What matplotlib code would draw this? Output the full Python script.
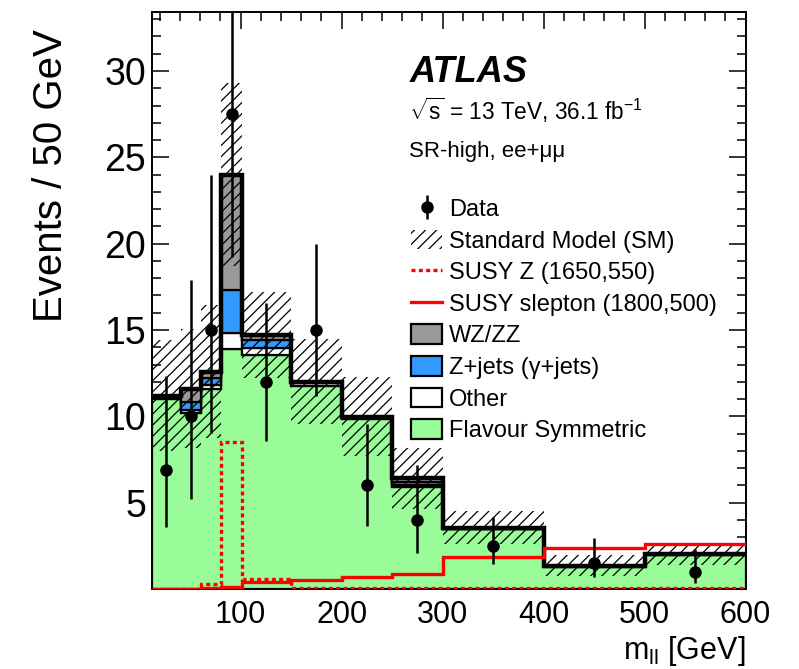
import matplotlib
matplotlib.use("Agg")
import matplotlib.pyplot as plt
import numpy as np
from matplotlib.patches import Patch
from matplotlib.lines import Line2D
from matplotlib.ticker import MultipleLocator, FixedLocator

plt.rcParams['font.family'] = ['Liberation Sans', 'DejaVu Sans']
plt.rcParams['mathtext.fontset'] = 'custom'
plt.rcParams['mathtext.rm'] = 'Liberation Sans'
plt.rcParams['mathtext.it'] = 'Liberation Sans:italic'
plt.rcParams['hatch.linewidth'] = 0.9

# m_ll bin edges [GeV]
edges = [12, 41, 61, 81, 101, 150, 200, 250, 300, 400, 500, 600]

# background stack, events / 50 GeV
flav_sym = [11.0, 10.2, 11.6, 13.9, 13.55, 11.75, 9.85, 5.92, 3.45, 1.30, 1.95]
other = [0.08, 0.15, 0.22, 0.90, 0.40, 0.20, 0.08, 0.12, 0.05, 0.04, 0.05]
zjets = [0.02, 0.50, 0.40, 2.50, 0.45, 0.02, 0.02, 0.15, 0.01, 0.00, 0.00]
wzzz = [0.10, 0.75, 0.36, 6.70, 0.30, 0.03, 0.03, 0.22, 0.03, 0.02, 0.04]
sm_unc = [3.2, 3.45, 3.85, 5.3, 2.5, 2.45, 2.3, 1.75, 0.95, 0.6, 0.65]

# signal points
susy_z = [0.0, 0.0, 0.27, 8.5, 0.58, 0.08, 0.05, 0.05, 0.03, 0.03, 0.03]
susy_slep = [0.01, 0.02, 0.06, 0.13, 0.39, 0.52, 0.68, 0.84, 1.88, 2.35, 2.62]

# data with asymmetric errors
data = [6.9, 10.0, 15.0, 27.5, 12.0, 15.0, 6.0, 4.0, 2.5, 1.5, 1.0]
data_lo = [3.3, 4.8, 5.95, 8.25, 3.42, 3.83, 2.38, 1.91, 1.08, 0.82, 0.65]
data_hi = [5.45, 7.9, 8.95, 10.9, 4.58, 4.96, 3.58, 3.16, 1.69, 1.46, 1.32]

col_fs = '#99fc99'
col_other = 'white'
col_z = '#3399ff'
col_wz = '#999999'

edges = np.array(edges, dtype=float)
centers = 0.5 * (edges[1:] + edges[:-1])

fig = plt.figure(figsize=(7.99, 6.69), dpi=100)
ax = fig.add_axes([0.1899, 0.1196, 0.7432, 0.862])

# stacked backgrounds
bottom = np.zeros(len(flav_sym))
for vals, col in [(flav_sym, col_fs), (other, col_other), (zjets, col_z), (wzzz, col_wz)]:
    top = bottom + np.array(vals)
    ax.stairs(top, edges, baseline=bottom.copy(), fill=True, facecolor=col,
              edgecolor='black', linewidth=1.6, zorder=2)
    bottom = top
total = bottom

# SM uncertainty band
unc = np.array(sm_unc)
ax.stairs(total + unc, edges, baseline=total - unc, fill=True, facecolor='none',
          edgecolor='black', linewidth=0, hatch='///', zorder=3)
ax.stairs(total, edges, baseline=None, color='black', linewidth=3.2, zorder=4)

# signals
ax.stairs(susy_z, edges, baseline=None, color='red', linewidth=2.4,
          linestyle=(0, (1.2, 1.0)), zorder=5)
ax.stairs(susy_slep, edges, baseline=None, color='red', linewidth=2.4, zorder=5)

# data
eb = ax.errorbar(centers, data, yerr=[data_lo, data_hi], fmt='o', color='black',
                 markersize=8, elinewidth=1.8, capsize=0, zorder=6)

ax.set_xlim(12, 600)
ax.set_ylim(0, 33.4)
ax.xaxis.set_major_locator(FixedLocator([100, 200, 300, 400, 500, 600]))
ax.xaxis.set_minor_locator(MultipleLocator(20))
ax.yaxis.set_major_locator(FixedLocator([5, 10, 15, 20, 25, 30]))
ax.yaxis.set_minor_locator(MultipleLocator(1))
ax.tick_params(which='both', direction='in', top=True, right=True, width=1.1)
ax.tick_params(which='major', length=12)
ax.tick_params(which='minor', length=6.5)
ax.tick_params(axis='x', labelsize=22, pad=8)
ax.tick_params(axis='y', labelsize=27, pad=4)
for s in ax.spines.values():
    s.set_linewidth(1.4)

ax.set_ylabel('Events / 50 GeV', fontsize=29, loc='top')
ax.yaxis.set_label_coords(-0.138, 0.97)
ax.set_xlabel(r'm$_{\mathregular{ll}}$ [GeV]', fontsize=22, loc='right')
ax.xaxis.label.set_va('top')
ax.xaxis.set_label_coords(1.0, -0.078)

ax.text(0.434, 0.879, 'ATLAS', transform=ax.transAxes, fontsize=26,
        fontweight='bold', fontstyle='italic', va='baseline')
ax.text(0.434, 0.813, r'$\sqrt{\mathregular{s}}$ = 13 TeV, 36.1 fb$^{\mathregular{-1}}$',
        transform=ax.transAxes, fontsize=16.3, va='baseline')
ax.text(0.434, 0.749, 'SR-high, ee+μμ', transform=ax.transAxes, fontsize=16,
        va='baseline')

handles = [
    eb,
    Patch(facecolor='none', edgecolor='black', linewidth=0, hatch='///'),
    Line2D([], [], color='red', linewidth=2.4, linestyle=(0, (1.2, 1.0))),
    Line2D([], [], color='red', linewidth=2.4),
    Patch(facecolor=col_wz, edgecolor='black', linewidth=1.6),
    Patch(facecolor=col_z, edgecolor='black', linewidth=1.6),
    Patch(facecolor=col_other, edgecolor='black', linewidth=1.6),
    Patch(facecolor=col_fs, edgecolor='black', linewidth=1.6),
]
labels = ['Data', 'Standard Model (SM)', 'SUSY Z (1650,550)', 'SUSY slepton (1800,500)',
          'WZ/ZZ', 'Z+jets (γ+jets)', 'Other', 'Flavour Symmetric']
ax.legend(handles, labels, loc='upper left', bbox_to_anchor=(0.437, 0.678),
          frameon=False, fontsize=17, borderpad=0, borderaxespad=0,
          handlelength=1.3, handleheight=0.92, handletextpad=0.3, labelspacing=0.36)

fig.savefig('out.png', dpi=100)
